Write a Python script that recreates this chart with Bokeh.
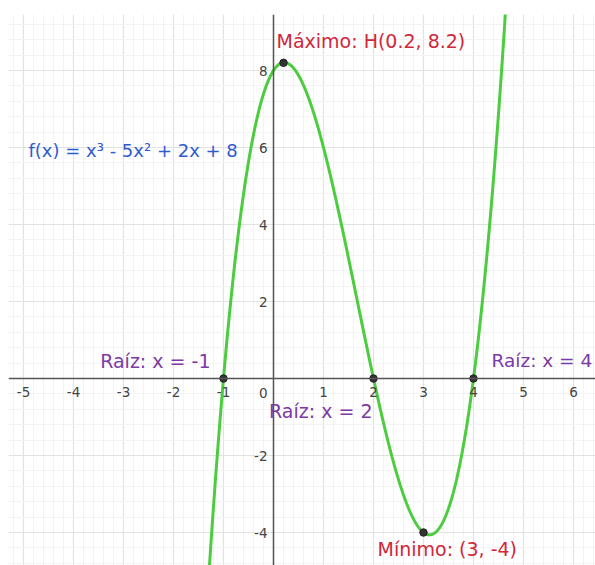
import numpy as np
from bokeh.plotting import figure
from bokeh.models import Range1d, FixedTicker, SingleIntervalTicker
from bokeh.core.properties import value
from bokeh.embed import file_html
from bokeh.resources import INLINE

# f(x) = x^3 - 5x^2 + 2x + 8, coefficients from the highest power down
coefficients = [1, -5, 2, 8]
equation_label = "f(x) = x³ - 5x² + 2x + 8"

root_x = [-1, 2, 4]
root_y = [0, 0, 0]
root_labels = ["Raíz: x = -1", "Raíz: x = 2", "Raíz: x = 4"]

max_x, max_y = 0.2, 8.2
max_label = "Máximo: H(0.2, 8.2)"
min_x, min_y = 3, -4
min_label = "Mínimo: (3, -4)"

x_ticks = [-5, -4, -3, -2, -1, 0, 1, 2, 3, 4, 5, 6]
y_ticks = [-4, -2, 0, 2, 4, 6, 8]

FONT = "DejaVu Sans"
X0, X1 = -5.3, 6.44
Y0, Y1 = -4.857, 9.455

p = figure(width=595, height=565, frame_width=587, frame_height=551,
           x_range=Range1d(X0, X1), y_range=Range1d(Y0, Y1),
           output_backend="svg", toolbar_location=None,
           min_border_left=8, min_border_top=14,
           min_border_right=0, min_border_bottom=0,
           background_fill_color="white", border_fill_color="white")
p.outline_line_color = None

# grid: 1 unit in x, 2 units in y, with faint minor lines
p.xgrid.ticker = SingleIntervalTicker(interval=1, num_minor_ticks=5)
p.ygrid.ticker = SingleIntervalTicker(interval=2, num_minor_ticks=5)
for g in (p.xgrid, p.ygrid):
    g.grid_line_color = "#e2e2e2"
    g.grid_line_width = 1.2
    g.minor_grid_line_color = "#f3f3f3"
    g.minor_grid_line_width = 1

# axes through the origin
for ax, ticks in ((p.xaxis, x_ticks), (p.yaxis, y_ticks)):
    ax.fixed_location = 0
    ax.ticker = FixedTicker(ticks=ticks)
    ax.major_label_overrides = {t: ("" if t == 0 else str(t)) for t in ticks}
    ax.axis_line_color = "#555555"
    ax.axis_line_width = 1.5
    ax.major_tick_in = 0
    ax.major_tick_out = 0
    ax.minor_tick_in = 0
    ax.minor_tick_out = 0
    ax.major_label_text_font = FONT
    ax.major_label_text_font_size = "13.5px"
    ax.major_label_text_color = "#444444"
p.xaxis.major_label_standoff = 8
p.yaxis.major_label_standoff = 6

# origin label, below-left of the crossing
p.text(x=[0], y=[0], text=["0"], x_offset=-6, y_offset=14,
       text_align="right", text_baseline="middle",
       text_font=value(FONT), text_font_size="13.5px", text_color="#444444")

# curve
xs = np.linspace(X0, X1, 1500)
ys = np.polyval(coefficients, xs)
p.line(xs, ys, line_color="#4ccc3f", line_width=3)

# marked points
p.scatter(root_x + [max_x, min_x], root_y + [max_y, min_y], size=7.5,
          marker="circle", fill_color="#333333", line_color="#222222")

# labels
lab = dict(text_font=value(FONT), text_font_size="19px", text_baseline="middle")
purple = "#7b3aa6"
red = "#d0283a"
p.text(x=[root_x[0]], y=[root_y[0]], text=[root_labels[0]], x_offset=-13, y_offset=-18,
       text_align="right", text_color=purple, **lab)
p.text(x=[root_x[1]], y=[root_y[1]], text=[root_labels[1]], x_offset=-1, y_offset=32,
       text_align="right", text_color=purple, **lab)
p.text(x=[root_x[2]], y=[root_y[2]], text=[root_labels[2]], x_offset=18, y_offset=-18,
       text_align="left", text_color=purple,
       text_font=value(FONT), text_font_size="18.5px", text_baseline="middle")
p.text(x=[max_x], y=[max_y], text=[max_label], x_offset=-7, y_offset=-22,
       text_align="left", text_color=red, **lab)
p.text(x=[min_x], y=[min_y], text=[min_label], x_offset=-46, y_offset=16,
       text_align="left", text_color=red, **lab)
p.text(x=[-4.9], y=[5.92], text=[equation_label],
       text_align="left", text_color="#2f5bd0",
       text_font=value(FONT), text_font_size="18px", text_baseline="middle")

open("out.html", "w").write(file_html(p, INLINE))
